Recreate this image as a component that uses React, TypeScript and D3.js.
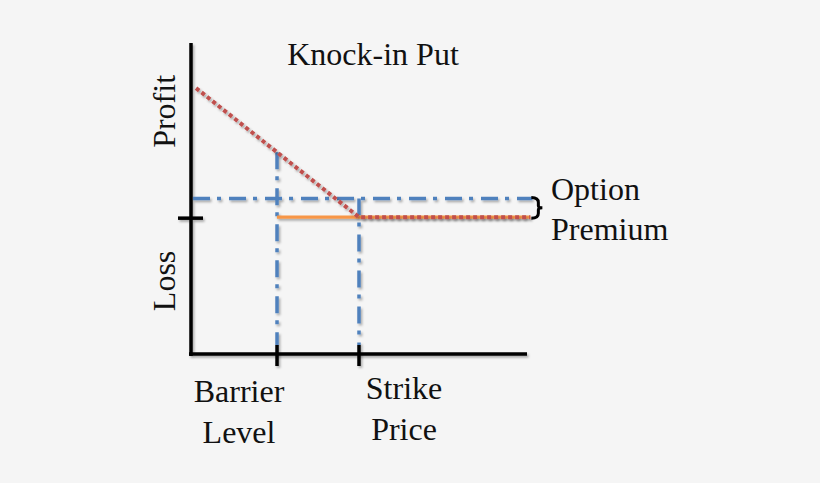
import React from "react";
import * as d3 from "d3";

// Payoff data (price units, profit units)
const barrier = 25.6;
const strike = 50;
const priceEnd = 101;
const premium = 6;
const payoffPoints: [number, number][] = [
  [1.5, 41.5],
  [50, 0],
  [101, 0],
];
const orangePoints: [number, number][] = [
  [25.6, 0],
  [101, 0],
];
const title = "Knock-in Put";
const xLabels = [
  { value: 25.6, lines: ["Barrier", "Level"], dx: -38, base: 402 },
  { value: 50, lines: ["Strike", "Price"], dx: 45, base: 399 },
];
const yLabels = [
  { value: 34, text: "Profit" },
  { value: -20.5, text: "Loss" },
];
const premiumLabel = ["Option", "Premium"];

const W = 820;
const H = 483;

export default function App() {
  const x = d3.scaleLinear().domain([0, 100]).range([191, 527]);
  const y = d3.scaleLinear().domain([-44, 56]).range([354, 43]);
  const line = d3
    .line<[number, number]>()
    .x((d) => x(d[0]))
    .y((d) => y(d[1]));
  const font = "'Liberation Serif', 'DejaVu Serif', serif";
  const blue = "#4f81bd";
  const dashDot = "17 7 4 8";
  const yZero = y(0);
  const yPrem = y(premium);
  const payoffAtBarrier = (41.5 * (strike - barrier)) / (strike - 1.5);
  const bx = x(priceEnd);
  const mid = (yPrem + yZero) / 2;

  return (
    <svg
      width={W}
      height={H}
      style={{ position: "absolute", left: 0, top: 0, background: "#f5f5f5" }}
    >
      <defs>
        <filter id="sh" filterUnits="userSpaceOnUse" x="0" y="0" width={W} height={H}>
          <feDropShadow dx="1.5" dy="2" stdDeviation="1.2" floodColor="#000" floodOpacity="0.3" />
        </filter>
      </defs>
      <rect width={W} height={H} fill="#f5f5f5" />

      {/* axes */}
      <g filter="url(#sh)">
        <line x1={x(0)} x2={x(0)} y1={y(56)} y2={y(-44) + 2} stroke="#000" strokeWidth={3.5} />
        <line x1={x(0) - 2} x2={x(100)} y1={y(-44)} y2={y(-44)} stroke="#000" strokeWidth={3.5} />
        <line x1={x(0) - 13} x2={x(0) + 12} y1={yZero + 1} y2={yZero + 1} stroke="#000" strokeWidth={3.5} />
      </g>

      {/* blue dash-dot guides */}
      <g filter="url(#sh)" stroke={blue} strokeWidth={3.5} fill="none">
        <line x1={x(0) + 2} x2={bx + 2} y1={yPrem} y2={yPrem} strokeDasharray={dashDot} />
        <line
          x1={x(barrier)}
          x2={x(barrier)}
          y1={y(payoffAtBarrier)}
          y2={y(-44) - 9}
          strokeDasharray={dashDot}
        />
        <line
          x1={x(strike)}
          x2={x(strike)}
          y1={yPrem}
          y2={y(-44) - 9}
          strokeDasharray={dashDot}
        />
      </g>

      {/* x ticks */}
      <g stroke="#000" strokeWidth={3.5} filter="url(#sh)">
        {[barrier, strike].map((v) => (
          <line key={v} x1={x(v)} x2={x(v)} y1={y(-44) - 9} y2={y(-44) + 12} />
        ))}
      </g>

      {/* orange line */}
      <path d={line(orangePoints) || ""} stroke="#f79646" strokeWidth={3.2} fill="none" filter="url(#sh)" />
      {/* red dotted payoff */}
      <path
        d={line(payoffPoints) || ""}
        stroke="#c0504d"
        strokeWidth={4}
        strokeDasharray="4 3"
        fill="none"
        filter="url(#sh)"
      />

      {/* brace */}
      <path
        d={`M ${bx + 1} ${yPrem - 1} Q ${bx + 8} ${yPrem - 1} ${bx + 8} ${yPrem + 4}
            L ${bx + 8} ${mid - 2} Q ${bx + 8} ${mid} ${bx + 12} ${mid}
            Q ${bx + 8} ${mid} ${bx + 8} ${mid + 2}
            L ${bx + 8} ${yZero - 4} Q ${bx + 8} ${yZero + 1} ${bx + 1} ${yZero + 1}`}
        stroke="#000"
        strokeWidth={3}
        fill="none"
      />

      {/* text */}
      <text x={373} y={65} textAnchor="middle" fontFamily={font} fontSize={32} fill="#111">
        {title}
      </text>
      {yLabels.map((l) => (
        <text
          key={l.text}
          transform={`translate(175, ${y(l.value)}) rotate(-90)`}
          textAnchor="middle"
          fontFamily={font}
          fontSize={32}
          fill="#111"
        >
          {l.text}
        </text>
      ))}
      {xLabels.map((l) =>
        l.lines.map((t, i) => (
          <text
            key={t}
            x={x(l.value) + l.dx}
            y={l.base + i * 41}
            textAnchor="middle"
            fontFamily={font}
            fontSize={32}
            fill="#111"
          >
            {t}
          </text>
        ))
      )}
      {premiumLabel.map((t, i) => (
        <text
          key={t}
          x={551}
          y={200 + i * 40}
          fontFamily={font}
          fontSize={32}
          fill="#111"
        >
          {t}
        </text>
      ))}
    </svg>
  );
}
